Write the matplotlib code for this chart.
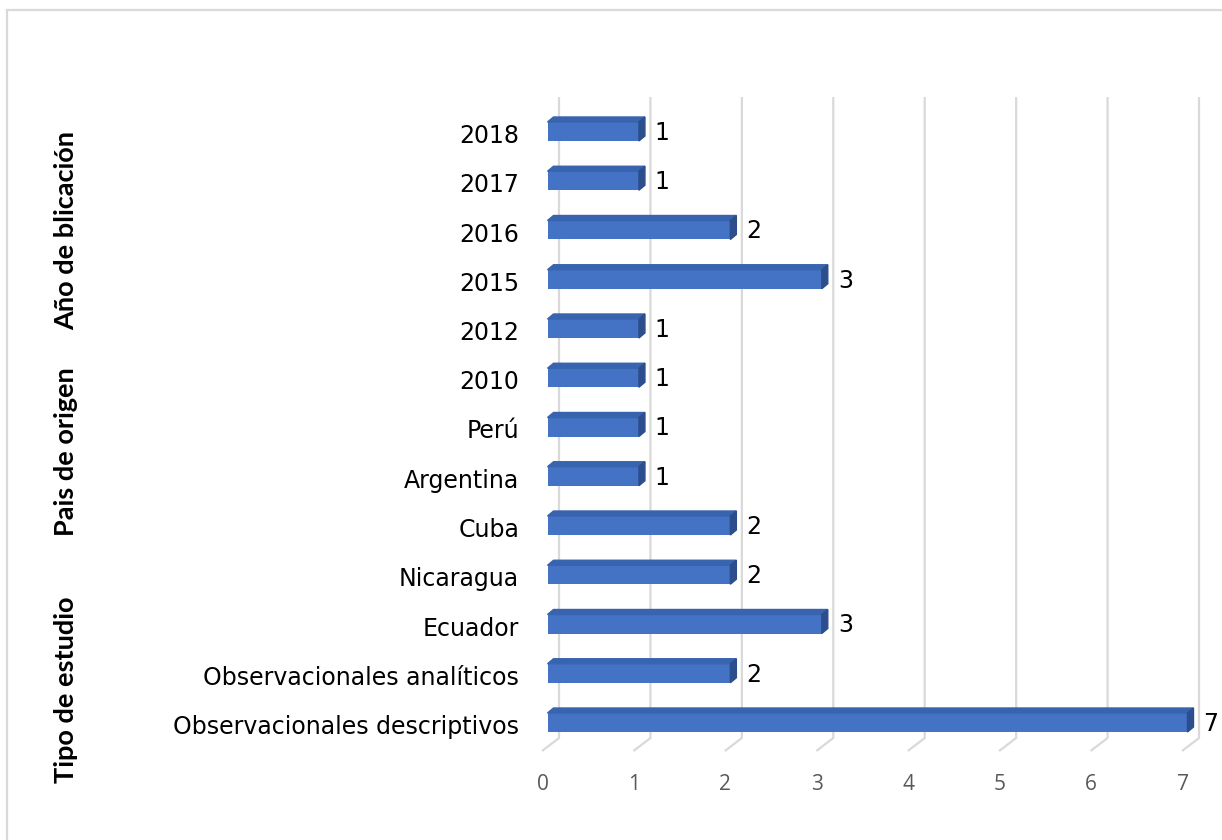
import matplotlib.pyplot as plt
from matplotlib.patches import Polygon, Rectangle
from matplotlib.transforms import ScaledTranslation

# datos (de abajo hacia arriba)
categorias = ['Observacionales descriptivos', 'Observacionales analíticos',
              'Ecuador', 'Nicaragua', 'Cuba', 'Argentina', 'Perú',
              '2010', '2012', '2015', '2016', '2017', '2018']
valores = [7, 2, 3, 2, 2, 1, 1, 1, 1, 3, 2, 1, 1]
grupos = ['Tipo de estudio', 'Pais de origen', 'Año de blicación']
grupos_y = [690, 452, 231]  # centro vertical en pixeles desde arriba
ticks_x = [0, 1, 2, 3, 4, 5, 6, 7]

W, H = 1222, 840
fig = plt.figure(figsize=(W / 100, H / 100), dpi=100)
ax = fig.add_axes([547.5 / W, 117.5 / H, 640 / W, 591 / H])
ax.set_xlim(0, 7)
ax.set_ylim(0, 12)

px_x = 640 / 7    # pixeles por unidad en x
px_y = 591 / 12   # pixeles por unidad en y

c_front = '#4472C4'
c_top = '#3863AE'
c_side = '#2D4E8C'
c_grid = '#D9D9D9'

# lineas de cuadricula (pared del fondo + piso)
y_top = (H - 97 - 117.5) / px_y
y_bot = (H - 738 - 117.5) / px_y
y_floor = (H - 751 - 117.5) / px_y
for k in ticks_x:
    xb = k + 11.5 / px_x
    xf = k - 5.5 / px_x
    ax.plot([xf, xb, xb], [y_floor, y_bot, y_top], color=c_grid, lw=1.6,
            clip_on=False, zorder=0, solid_capstyle='butt')

# barras 3D
h = 19 / px_y
dx = 6 / px_x
dy = 5 / px_y
pos = list(range(len(categorias)))
barras = ax.barh(pos, valores, height=h, color=c_front, zorder=3)
for b in barras:
    b.set_clip_on(False)
for y, v in zip(pos, valores):
    yt = y + h / 2
    yb = y - h / 2
    ax.add_patch(Polygon([(0, yt), (v, yt), (v + dx, yt + dy), (dx, yt + dy)],
                         closed=True, color=c_top, zorder=3, clip_on=False))
    ax.add_patch(Polygon([(v, yb), (v, yt), (v + dx, yt + dy), (v + dx, yb + dy)],
                         closed=True, color=c_side, zorder=3, clip_on=False))
    ax.text(v + 16 / px_x, y - 0.03, str(v), va='center', ha='left',
            fontsize=17, color='black', family='DejaVu Sans', clip_on=False)

ax.set_yticks(pos, categorias)
ax.tick_params(axis='y', length=0, pad=20.5, labelsize=17)
ax.set_xticks(ticks_x, [str(t) for t in ticks_x])
ax.tick_params(axis='x', length=0, pad=37, labelsize=15, labelcolor='#595959')
for lab in ax.get_xticklabels():
    lab.set_family('Open Sans')
    lab.set_transform(lab.get_transform() + ScaledTranslation(-5 / 100, 0, fig.dpi_scale_trans))
for lab in ax.get_yticklabels():
    lab.set_family('DejaVu Sans')
    lab.set_transform(lab.get_transform() + ScaledTranslation(0, -2 / 100, fig.dpi_scale_trans))
for s in ax.spines.values():
    s.set_visible(False)
ax.set_facecolor('none')

# etiquetas de grupo
for g, gy in zip(grupos, grupos_y):
    fig.text(66 / W, 1 - gy / H, g, rotation=90, ha='center', va='center',
             fontsize=19.5, fontweight='bold', family='Lato', color='black')

# borde del area del grafico
fig.add_artist(Rectangle((7.5 / W, -0.1), 1.2, 1 - 10.5 / H + 0.1,
                         transform=fig.transFigure, fill=False,
                         edgecolor=c_grid, lw=1.6))

fig.savefig('out.png', dpi=100)
